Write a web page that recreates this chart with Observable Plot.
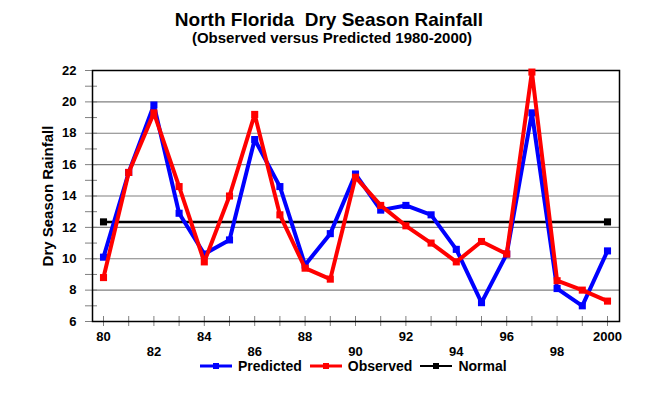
<!DOCTYPE html>
<html><head><meta charset="utf-8">
<script src="https://cdn.jsdelivr.net/npm/d3@7"></script>
<script src="https://cdn.jsdelivr.net/npm/@observablehq/plot@0.6"></script>
<style>
body{margin:0;background:#fff;font-family:"Liberation Sans",Arial,sans-serif;}
#wrap{position:relative;width:658px;height:395px;overflow:hidden;}
#wrap svg{position:absolute;left:0;top:0;}
.t{position:absolute;left:0;width:658px;text-align:center;font-weight:bold;color:#000;white-space:pre;line-height:1;}
#legend{position:absolute;left:200px;top:358px;display:flex;align-items:center;font-weight:bold;font-size:14px;line-height:16px;}
#legend .it{display:flex;align-items:center;margin-right:8px;}
#legend svg{position:static;margin-right:6px;}
</style></head>
<body>
<div id="wrap">
<div class="t" id="title" style="top:10px;font-size:19px;padding-left:0px">North Florida  Dry Season Rainfall</div>
<div class="t" id="sub" style="top:30px;font-size:15px;padding-left:3px">(Observed versus Predicted 1980-2000)</div>
<div id="legend"></div>
</div>
<script>
const years = d3.range(1980, 2001);
const predicted = [10.1, 15.5, 19.8, 12.9, 10.3, 11.2, 17.6, 14.6, 9.6, 11.6, 15.4, 13.1, 13.4, 12.8, 10.6, 7.2, 10.3, 19.3, 8.1, 7.0, 10.5];
const observed  = [8.8, 15.5, 19.3, 14.6, 9.8, 14.0, 19.2, 12.8, 9.4, 8.7, 15.2, 13.4, 12.1, 11.0, 9.8, 11.1, 10.3, 21.9, 8.6, 8.0, 7.3];
const normalYears = [1980, 2000];
const normalValue = [12.35, 12.35];
const upperLabelYears = [1980, 1984, 1988, 1992, 1996, 2000];
const lowerLabelYears = [1982, 1986, 1990, 1994, 1998];
const majorY = [6, 8, 10, 12, 14, 16, 18, 20, 22];
const minorY = [7, 9, 11, 13, 15, 17, 19, 21];
const seriesNames = ["Predicted", "Observed", "Normal"];
const seriesColors = ["#0000ff", "#ff0000", "#000000"];

const predData = years.map((y, i) => ({year: y, value: predicted[i]}));
const obsData = years.map((y, i) => ({year: y, value: observed[i]}));
const normData = normalYears.map((y, i) => ({year: y, value: normalValue[i]}));
const yrLabel = d => d === 2000 ? "2000" : String(d % 100);

const chart = Plot.plot({
  width: 658, height: 395,
  marginLeft: 92, marginRight: 39, marginTop: 70, marginBottom: 74,
  style: {fontFamily: '"Liberation Sans", Arial, sans-serif', fontWeight: "bold", fontSize: "12px", color: "#000", background: "transparent"},
  x: {domain: [1980, 2000], insetLeft: 11, insetRight: 12},
  y: {domain: [6, 22]},
  marks: [
    Plot.gridY(majorY, {stroke: "#808080", strokeOpacity: 1, strokeWidth: 1.2}),
    Plot.axisY(majorY, {tickSize: 0, tickPadding: 16, fontWeight: "bold", fontSize: 13,
      label: "Dry Season Rainfall", labelAnchor: "center", labelArrow: "none", labelOffset: 50}),
    Plot.axisY(majorY, {tickSize: 12, dx: 5, tickFormat: () => "", stroke: "#808080", label: null}),
    Plot.axisY(minorY, {tickSize: 12, dx: 5, tickFormat: () => "", stroke: "#808080", label: null}),
    Plot.axisX(years, {tickSize: 10, dy: -5, tickFormat: () => "", stroke: "#808080", label: null}),
    Plot.axisX(upperLabelYears, {tickSize: 0, tickPadding: 10, tickFormat: yrLabel, fontSize: 13, label: null}),
    Plot.axisX(lowerLabelYears, {tickSize: 0, tickPadding: 25, tickFormat: yrLabel, fontSize: 13, label: null}),
    Plot.frame({stroke: "#000", strokeWidth: 1.5}),
    Plot.line(normData, {x: "year", y: "value", stroke: seriesColors[2], strokeWidth: 2.5}),
    Plot.dot(normData, {x: "year", y: "value", symbol: "square", r: 4, fill: seriesColors[2]}),
    Plot.line(predData, {x: "year", y: "value", stroke: seriesColors[0], strokeWidth: 4}),
    Plot.dot(predData, {x: "year", y: "value", symbol: "square", r: 4, fill: seriesColors[0]}),
    Plot.line(obsData, {x: "year", y: "value", stroke: seriesColors[1], strokeWidth: 4}),
    Plot.dot(obsData, {x: "year", y: "value", symbol: "square", r: 4, fill: seriesColors[1]})
  ]
});
document.getElementById("wrap").prepend(chart);
chart.querySelectorAll("g[aria-label='y-axis label'] text, g[aria-label='y-axis label']").forEach(e => e.setAttribute("font-size", 15));

const leg = document.getElementById("legend");
seriesNames.forEach((n, i) => {
  const it = document.createElement("div");
  it.className = "it";
  const h = i === 2 ? 2 : 3;
  it.innerHTML = `<svg width="32" height="10"><rect x="0" y="${5 - h/2}" width="32" height="${h}" fill="${seriesColors[i]}"/><rect x="13" y="2" width="6" height="6" fill="${seriesColors[i]}"/></svg><span>${n}</span>`;
  leg.appendChild(it);
});
</script>
</body></html>
